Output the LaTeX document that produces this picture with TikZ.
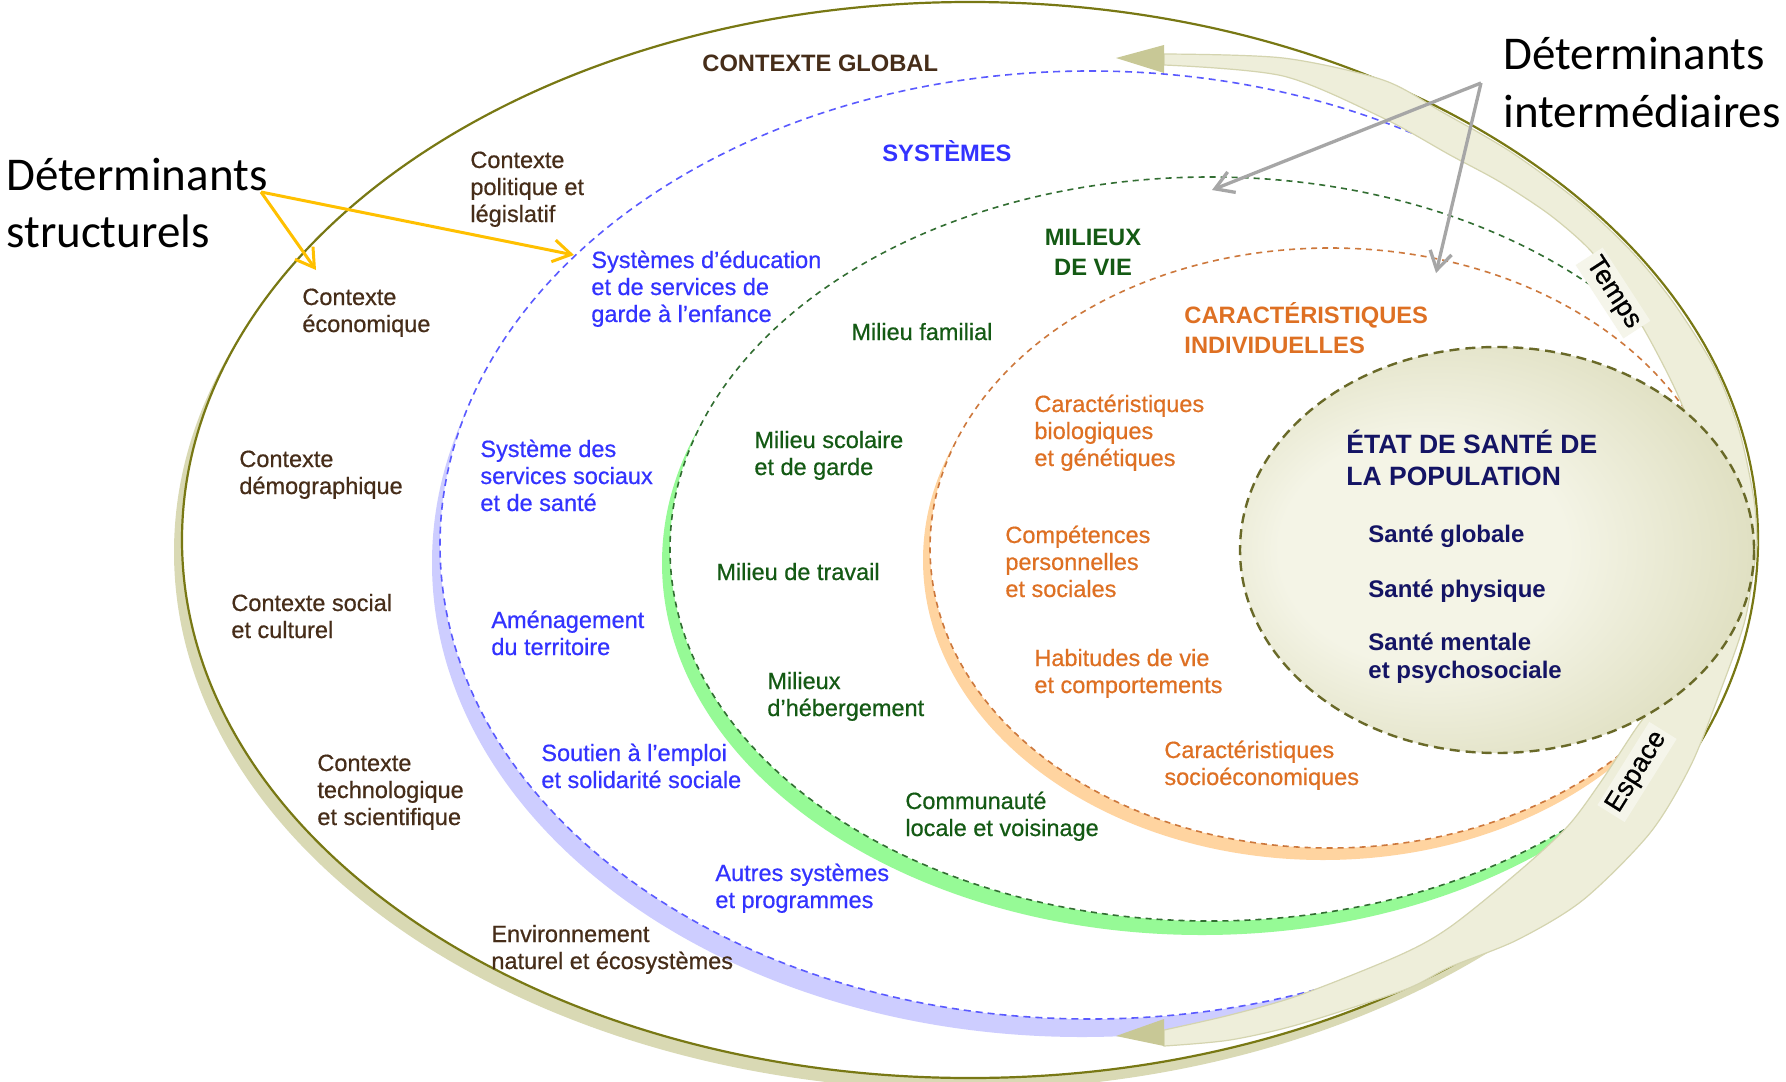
\documentclass[tikz,border=0pt]{standalone}
\usepackage{fontspec}
\setmainfont{Liberation Sans}
\newfontfamily\itemfont[FakeBold=0.6]{Liberation Sans}
\newfontfamily\calibrifont{Carlito}
\usetikzlibrary{arrows.meta}

\definecolor{olv}{RGB}{120,120,20}
\definecolor{olvband}{RGB}{217,217,180}
\definecolor{bluet}{RGB}{51,51,255}
\definecolor{bluedash}{RGB}{90,90,255}
\definecolor{blueband}{RGB}{205,205,255}
\definecolor{greent}{RGB}{20,90,20}
\definecolor{greendash}{RGB}{50,110,50}
\definecolor{greenband}{RGB}{150,250,150}
\definecolor{oranget}{RGB}{222,112,35}
\definecolor{orangedash}{RGB}{205,120,60}
\definecolor{orangeband}{RGB}{255,212,160}
\definecolor{browntext}{RGB}{70,45,25}
\definecolor{navy}{RGB}{20,20,100}
\definecolor{bandfill}{RGB}{238,238,218}
\definecolor{banddraw}{RGB}{212,212,175}
\definecolor{labelfill}{RGB}{245,245,234}
\definecolor{headfill}{RGB}{200,200,150}
\definecolor{healthdash}{RGB}{105,105,40}
\definecolor{healthin}{RGB}{244,244,230}
\definecolor{healthout}{RGB}{196,196,145}
\definecolor{grayarrow}{RGB}{166,166,166}
\definecolor{yellowarrow}{RGB}{255,192,0}

\pgfdeclareradialshading{healthshade}{\pgfpoint{-10bp}{0bp}}{%
  color(0bp)=(healthin); color(14bp)=(healthin); color(50bp)=(healthout)}

\begin{document}
\begin{tikzpicture}[x=0.5pt,y=-0.5pt,
  item/.style={align=left, anchor=base west, inner sep=0pt, font=\itemfont\fontsize{11.75pt}{13.5pt}\selectfont},
  head/.style={align=left, anchor=base west, inner sep=0pt, font=\bfseries\fontsize{11.85pt}{14.75pt}\selectfont},
  bigtext/.style={align=left, anchor=base west, inner sep=0pt, font=\calibrifont\fontsize{23.5pt}{28.5pt}\selectfont},
  santeitem/.style={align=left, anchor=base west, inner sep=0pt, text=navy, font=\bfseries\fontsize{12pt}{14pt}\selectfont},
  bandlabel/.style={fill=labelfill, inner sep=2pt, font=\itemfont\fontsize{13.5pt}{15pt}\selectfont},
  grayarr/.style={draw=grayarrow, line width=1.65pt, -{Straight Barb[length=9pt,width=11pt]}},
  yelarr/.style={draw=yellowarrow, line width=1.5pt, -{Straight Barb[length=9pt,width=11pt]}},
]
\useasboundingbox (0,0) rectangle (1786,1081);

% ---- outer ring (contexte global)
\fill[olvband] (962,552) ellipse [x radius=788, y radius=538];
\fill[white] (970,540) ellipse [x radius=788, y radius=538];
\draw[olv, line width=1.1pt] (970,540) ellipse [x radius=788, y radius=538];

% ---- systemes
\fill[blueband] (1082,563) ellipse [x radius=650, y radius=474];
\fill[white] (1090,545) ellipse [x radius=650, y radius=474];
\draw[bluedash, line width=0.8pt, dash pattern=on 3.5pt off 2.5pt] (1090,545) ellipse [x radius=650, y radius=474];

% ---- milieux de vie
\fill[greenband] (1202,563) ellipse [x radius=540, y radius=372];
\fill[white] (1210,549) ellipse [x radius=540, y radius=372];
\draw[greendash, line width=0.8pt, dash pattern=on 3pt off 2.5pt] (1210,549) ellipse [x radius=540, y radius=372];

% ---- caracteristiques individuelles
\fill[orangeband] (1323,560) ellipse [x radius=400, y radius=300];
\fill[white] (1330,548) ellipse [x radius=400, y radius=300];
\draw[orangedash, line width=0.8pt, dash pattern=on 3pt off 2.5pt] (1330,548) ellipse [x radius=400, y radius=300];

% ---- Temps band
\filldraw[fill=bandfill, draw=banddraw, line width=0.6pt]
  plot[smooth] coordinates {(1164,54) (1283,58) (1383,80) (1442,112) (1511,152) (1579,202) (1632,252) (1673,302) (1714,367) (1739,430) (1754,500) (1757,545)}
  -- plot[smooth] coordinates {(1720,545) (1705,470) (1680,400) (1650,340) (1620,290) (1590,250) (1550,215) (1500,182) (1450,155) (1383,118) (1283,76) (1164,65)}
  -- cycle;
\fill[headfill] (1116,58) -- (1164,45) -- (1164,73) -- cycle;

% ---- Espace band
\filldraw[fill=bandfill, draw=banddraw, line width=0.6pt]
  plot[smooth] coordinates {(1757,545) (1745,620) (1717,700) (1690,767) (1650,833) (1583,900) (1517,940) (1450,967) (1404,990) (1300,1024) (1230,1040) (1164,1046)}
  -- plot[smooth] coordinates {(1164,1030) (1230,1015) (1300,995) (1400,955) (1450,927) (1517,873) (1567,827) (1600,783) (1637,727) (1668,685) (1700,620) (1720,545)}
  -- cycle;
\fill[headfill] (1116,1036) -- (1164,1019) -- (1164,1046) -- cycle;

% ---- etat de sante
\shade[shading=healthshade] (1497,550) ellipse [x radius=257, y radius=203];
\draw[healthdash, line width=1.2pt, dash pattern=on 5pt off 3pt] (1497,550) ellipse [x radius=257, y radius=203];

\node[bandlabel, rotate=-57] (temps) at (1613,293) {Temps};
\node[bandlabel, rotate=58] (espace) at (1637,772) {Espace};

% ---- headings
\node[head, text=browntext] (ctxglobal) at (702,72) {CONTEXTE GLOBAL};
\node[head, text=bluet] (systemes) at (882,162) {SYSTÈMES};
\node[head, text=greent, align=center, anchor=base] (milieux) at (1093,275) {MILIEUX\\DE VIE};
\node[head, text=oranget] (caract) at (1184,353) {CARACTÉRISTIQUES\\INDIVIDUELLES};
\node[head, text=navy, font=\bfseries\fontsize{13.25pt}{16pt}\selectfont] (etat) at (1346,485) {ÉTAT DE SANTÉ DE\\LA POPULATION};

% ---- contexte global items
\node[item, text=browntext] (ctxpol) at (470,222) {Contexte\\politique et\\législatif};
\node[item, text=browntext] (ctxeco) at (302,332) {Contexte\\économique};
\node[item, text=browntext] (ctxdemo) at (239,494) {Contexte\\démographique};
\node[item, text=browntext] (ctxsoc) at (231,638) {Contexte social\\et culturel};
\node[item, text=browntext] (ctxtech) at (317,825) {Contexte\\technologique\\et scientifique};
\node[item, text=browntext] (ctxenv) at (491,969) {Environnement\\naturel et écosystèmes};

% ---- systemes items
\node[item, text=bluet] (syseduc) at (591,322) {Systèmes d’éducation\\et de services de\\garde à l’enfance};
\node[item, text=bluet] (syssoc) at (480,511) {Système des\\services sociaux\\et de santé};
\node[item, text=bluet] (sysamen) at (491,655) {Aménagement\\du territoire};
\node[item, text=bluet] (syssout) at (541,788) {Soutien à l’emploi\\et solidarité sociale};
\node[item, text=bluet] (sysautres) at (715,908) {Autres systèmes\\et programmes};

% ---- milieux items
\node[item, text=greent] (milfam) at (851,340) {Milieu familial};
\node[item, text=greent] (milscol) at (754,475) {Milieu scolaire\\et de garde};
\node[item, text=greent] (miltrav) at (716,580) {Milieu de travail};
\node[item, text=greent] (milheb) at (767,716) {Milieux\\d’hébergement};
\node[item, text=greent] (milcom) at (905,836) {Communauté\\locale et voisinage};

% ---- caracteristiques items
\node[item, text=oranget] (carbio) at (1034,466) {Caractéristiques\\biologiques\\et génétiques};
\node[item, text=oranget] (carcomp) at (1005,597) {Compétences\\personnelles\\et sociales};
\node[item, text=oranget] (carhab) at (1034,693) {Habitudes de vie\\et comportements};
\node[item, text=oranget] (carsocio) at (1164,785) {Caractéristiques\\socioéconomiques};

% ---- sante items
\node[santeitem] (santeg) at (1368,542) {Santé globale};
\node[santeitem] (santep) at (1368,597) {Santé physique};
\node[santeitem] (santem) at (1368,678) {Santé mentale\\et psychosociale};

% ---- big labels and arrows
\node[bigtext] (detstruct) at (6,247) {Déterminants\\structurels};
\node[bigtext] (detinter) at (1503,127) {Déterminants\\intermédiaires};

\coordinate (yapex) at (261,192);
\coordinate (ytip1) at (316,270);
\coordinate (ytip2) at (574,255);
\draw[yelarr] (yapex) -- (ytip1);
\draw[yelarr] (yapex) -- (ytip2);

\coordinate (gapex) at (1481,83);
\coordinate (gtip1) at (1212,190);
\coordinate (gtip2) at (1436,273);
\draw[grayarr] (gapex) -- (gtip1);
\draw[grayarr] (gapex) -- (gtip2);
\end{tikzpicture}
\end{document}
